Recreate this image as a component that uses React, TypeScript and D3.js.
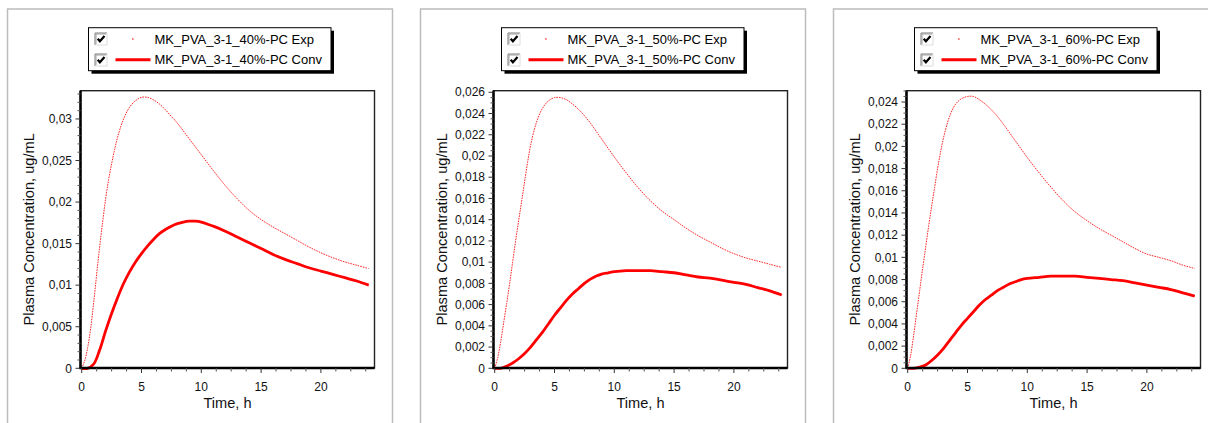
import React from 'react';
import * as d3 from 'd3';

// Time grids (h)
const EXP_T = [0, 0.25, 0.5, 0.75, 1, 1.25, 1.5, 1.75, 2, 2.25, 2.5, 2.75, 3, 3.5, 4, 4.5, 5, 5.5, 6, 6.5, 7, 7.5, 8, 9, 10, 11, 12, 13, 14, 15, 16, 17, 18, 19, 20, 21, 22, 23, 24];
const CONV_T = [0, 0.5, 1, 1.5, 2, 2.5, 3, 3.5, 4, 4.5, 5, 5.5, 6, 6.5, 7, 7.5, 8, 8.5, 9, 9.5, 10, 11, 12, 13, 14, 15, 16, 17, 18, 19, 20, 21, 22, 23, 24];

// Plasma concentration, ug/mL
const EXP_40 = [0, 0.0009, 0.0025, 0.0048, 0.0079, 0.0113, 0.0146, 0.0176, 0.0204, 0.0227, 0.0246, 0.0263, 0.0278, 0.0300, 0.0314, 0.0322, 0.0326, 0.0326, 0.0323, 0.0318, 0.0311, 0.0303, 0.0295, 0.0276, 0.0257, 0.0238, 0.0220, 0.0204, 0.0190, 0.0179, 0.0170, 0.0162, 0.0154, 0.0146, 0.0139, 0.0133, 0.0128, 0.0124, 0.0120];
const CONV_40 = [0, 0, 0.0005, 0.0022, 0.0045, 0.0066, 0.0085, 0.0102, 0.0116, 0.0128, 0.0138, 0.0147, 0.0155, 0.0162, 0.0167, 0.0171, 0.0174, 0.0176, 0.0177, 0.0177, 0.0176, 0.0171, 0.0165, 0.0158, 0.0151, 0.0144, 0.0137, 0.0131, 0.0126, 0.0121, 0.0117, 0.0113, 0.0109, 0.0105, 0.0100];

const EXP_50 = [0, 0.0010, 0.0025, 0.0043, 0.0061, 0.0080, 0.0100, 0.0120, 0.0139, 0.0157, 0.0176, 0.0194, 0.0210, 0.0232, 0.0245, 0.0252, 0.0255, 0.0255, 0.0253, 0.0249, 0.0244, 0.0238, 0.0231, 0.0215, 0.0199, 0.0184, 0.0170, 0.0158, 0.0148, 0.0140, 0.0132, 0.0125, 0.0119, 0.0113, 0.0108, 0.0104, 0.0101, 0.0098, 0.0095];
const CONV_50 = [0, 0, 0.0002, 0.0005, 0.0009, 0.0014, 0.0020, 0.0027, 0.0034, 0.0042, 0.0050, 0.0057, 0.0064, 0.0070, 0.0075, 0.0080, 0.0084, 0.0087, 0.0089, 0.0090, 0.0091, 0.0092, 0.0092, 0.0092, 0.0091, 0.0090, 0.0088, 0.0086, 0.0085, 0.0083, 0.0081, 0.0079, 0.0076, 0.0073, 0.0069];

const EXP_60 = [0, 0.0012, 0.0030, 0.0050, 0.0070, 0.0090, 0.0109, 0.0128, 0.0146, 0.0163, 0.0180, 0.0195, 0.0208, 0.0227, 0.0238, 0.0243, 0.0245, 0.0245, 0.0242, 0.0238, 0.0233, 0.0227, 0.0220, 0.0205, 0.0190, 0.0176, 0.0163, 0.0151, 0.0141, 0.0133, 0.0126, 0.0120, 0.0114, 0.0108, 0.0103, 0.0100, 0.0097, 0.0093, 0.0090];
const CONV_60 = [0, 0, 0.0001, 0.0003, 0.0007, 0.0012, 0.0018, 0.0025, 0.0032, 0.0039, 0.0045, 0.0051, 0.0057, 0.0062, 0.0066, 0.0070, 0.0073, 0.0076, 0.0078, 0.0080, 0.0081, 0.0082, 0.0083, 0.0083, 0.0083, 0.0082, 0.0081, 0.0080, 0.0079, 0.0077, 0.0075, 0.0073, 0.0071, 0.0068, 0.0065];

const SERIES_NAMES = ['40%', '50%', '60%'];
const X_TICKS = [0, 5, 10, 15, 20];
const Y_TICKS_40 = [0, 0.005, 0.01, 0.015, 0.02, 0.025, 0.03];
const Y_TICKS_50 = [0, 0.002, 0.004, 0.006, 0.008, 0.01, 0.012, 0.014, 0.016, 0.018, 0.02, 0.022, 0.024, 0.026];
const Y_TICKS_60 = [0, 0.002, 0.004, 0.006, 0.008, 0.01, 0.012, 0.014, 0.016, 0.018, 0.02, 0.022, 0.024];
const Y_MAX = [0.0334, 0.02615, 0.02502];
const Y_MINOR = [0.001, 0.0005, 0.0005];
const X_TITLE = 'Time, h';
const Y_TITLE = 'Plasma Concentration, ug/mL';

const PANELS = [
  { name: SERIES_NAMES[0], exp: EXP_40, conv: CONV_40, yTicks: Y_TICKS_40, yMax: Y_MAX[0], yMinor: Y_MINOR[0] },
  { name: SERIES_NAMES[1], exp: EXP_50, conv: CONV_50, yTicks: Y_TICKS_50, yMax: Y_MAX[1], yMinor: Y_MINOR[1] },
  { name: SERIES_NAMES[2], exp: EXP_60, conv: CONV_60, yTicks: Y_TICKS_60, yMax: Y_MAX[2], yMinor: Y_MINOR[2] },
];

const FONT = '"Liberation Sans", Arial, sans-serif';
const fmtY = (v: number) => (v === 0 ? '0' : String(+v.toFixed(4)).replace('.', ','));

function CheckBox({ x, y }: { x: number; y: number }) {
  return (
    <g transform={`translate(${x},${y})`}>
      <rect x={0} y={0} width={13} height={13} fill="#fff" />
      <path d="M0.5,12.5 V0.5 H12.5" fill="none" stroke="#7a7a7a" strokeWidth={1} />
      <path d="M1.5,11.5 V1.5 H11.5" fill="none" stroke="#a0a0a0" strokeWidth={1} />
      <path d="M12.5,0.5 V12.5 H0.5" fill="none" stroke="#dcdcdc" strokeWidth={1} />
      <path d="M3.2,6.2 L5.4,8.8 L10,3.6" fill="none" stroke="#000" strokeWidth={2.2} />
    </g>
  );
}

function Panel({ p, i }: { p: any; i: number }) {
  const fx = 7.5 + i * 413;
  const left = fx + 73;
  const plotW = 294;
  const top = 90.7;
  const bottom = 368;
  const x = d3.scaleLinear().domain([0, 24]).range([left + 1.2, left + 1.2 + 24 * 11.96]);
  const y = d3.scaleLinear().domain([0, p.yMax]).range([368.3, top]);

  const expData = EXP_T.map((t, k) => [t, p.exp[k]] as [number, number]);
  const convData = CONV_T.map((t, k) => [t, p.conv[k]] as [number, number]);
  const line = d3
    .line<[number, number]>()
    .x((d) => x(d[0]))
    .y((d) => y(Math.max(0, d[1])))
    .curve(d3.curveCatmullRom.alpha(0.5));

  const xMinor = d3.range(0, 24.0001, 1.25).filter((t) => Math.abs(t % 5) > 1e-6);
  const yMinor = d3
    .range(0, p.yMax + 1e-9, p.yMinor)
    .filter((v) => !p.yTicks.some((t: number) => Math.abs(t - v) < 1e-7));

  const lx = fx + 81;
  const ly = 27.7;
  const label = `MK_PVA_3-1_${p.name}-PC`;

  return (
    <g>
      {/* panel frame */}
      <rect x={fx} y={9} width={385} height={430} fill="none" stroke="#bcbcbc" strokeWidth={1.5} />

      {/* legend */}
      <rect x={lx + 3} y={ly + 3} width={242.5} height={43} fill="#000" />
      <rect x={lx} y={ly} width={242.5} height={43} fill="#fff" stroke="#000" strokeWidth={1} />
      <CheckBox x={fx + 87} y={32.5} />
      <CheckBox x={fx + 87} y={53.5} />
      <circle cx={fx + 125.4} cy={39} r={0.8} fill="#ff0000" />
      <line x1={fx + 108} x2={fx + 143} y1={59.8} y2={59.8} stroke="#ff0000" strokeWidth={3} />
      <text x={fx + 147} y={43.6} fontSize={13} fontFamily={FONT} fill="#000">
        {label} Exp
      </text>
      <text x={fx + 147} y={64.4} fontSize={13} fontFamily={FONT} fill="#000">
        {label} Conv
      </text>

      {/* plot area */}
      <rect x={left} y={top} width={plotW} height={bottom - top} fill="#fff" stroke="#222" strokeWidth={1.4} />

      {/* series */}
      <path
        d={line(expData) || ''}
        fill="none"
        stroke="#ff0000"
        strokeOpacity={0.85}
        strokeWidth={1}
        strokeDasharray="1.6 1"
      />
      <path d={line(convData) || ''} fill="none" stroke="#ff0000" strokeWidth={2.8} strokeLinejoin="round" />

      {/* axes */}
      <line x1={left} x2={left} y1={top} y2={bottom + 1} stroke="#000" strokeWidth={2.5} />
      <line x1={left - 1} x2={left + plotW} y1={bottom} y2={bottom} stroke="#000" strokeWidth={2.5} />

      {/* y ticks */}
      {p.yTicks.map((v: number) => (
        <g key={`yt${v}`}>
          <line x1={left - 5} x2={left} y1={y(v)} y2={y(v)} stroke="#333" strokeWidth={1} />
          <text
            x={left - 8.5}
            y={y(v)}
            dy="0.35em"
            textAnchor="end"
            fontSize={12}
            fontFamily={FONT}
            fill="#111"
          >
            {fmtY(v)}
          </text>
        </g>
      ))}
      {yMinor.map((v: number) => (
        <line key={`ym${v}`} x1={left - 3} x2={left} y1={y(v)} y2={y(v)} stroke="#555" strokeWidth={1} />
      ))}

      {/* x ticks */}
      {X_TICKS.map((t) => (
        <g key={`xt${t}`}>
          <line x1={x(t)} x2={x(t)} y1={bottom} y2={bottom + 5} stroke="#333" strokeWidth={1} />
          <text x={x(t)} y={390.5} textAnchor="middle" fontSize={12} fontFamily={FONT} fill="#111">
            {t}
          </text>
        </g>
      ))}
      {xMinor.map((t) => (
        <line key={`xm${t}`} x1={x(t)} x2={x(t)} y1={bottom} y2={bottom + 3.5} stroke="#555" strokeWidth={1} />
      ))}

      {/* titles */}
      <text
        x={left + plotW / 2}
        y={408}
        textAnchor="middle"
        fontSize={14.6}
        fontFamily={FONT}
        fill="#111"
      >
        {X_TITLE}
      </text>
      <text
        transform={`translate(${fx + 26},${(top + bottom) / 2}) rotate(-90)`}
        textAnchor="middle"
        fontSize={14.6}
        fontFamily={FONT}
        fill="#111"
      >
        {Y_TITLE}
      </text>
    </g>
  );
}

export default function App() {
  return (
    <div style={{ position: 'fixed', left: 0, top: 0, width: 1208, height: 423, background: '#fff' }}>
      <svg width={1208} height={423} style={{ display: 'block' }}>
        <rect x={0} y={0} width={1208} height={423} fill="#fff" />
        {PANELS.map((p, i) => (
          <Panel key={p.name} p={p} i={i} />
        ))}
      </svg>
    </div>
  );
}
